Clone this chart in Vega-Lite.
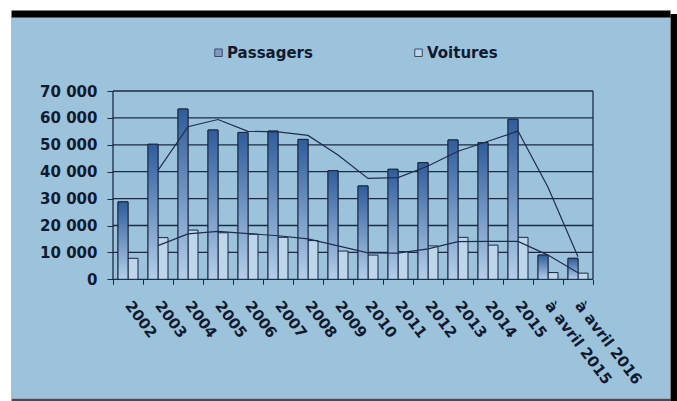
{
  "$schema": "https://vega.github.io/schema/vega-lite/v6.json",
  "width": 659,
  "height": 381,
  "autosize": {"type": "none"},
  "padding": {"left": 11, "top": 17, "right": 7, "bottom": 3},
  "background": "#ffffff",
  "config": {"view": {"fill": "#9dc3dc", "stroke": null}, "font": "DejaVu Sans"},
  "datasets": {
    "grille": [{"v": 0}, {"v": 10000}, {"v": 20000}, {"v": 30000}, {"v": 40000}, {"v": 50000}, {"v": 60000}, {"v": 70000}],
    "cadre": [{"cote": "gauche"}],
    "trafic": [
      {"annee": "2002", "serie": "Passagers", "valeur": 28800, "tendance": null},
      {"annee": "2002", "serie": "Voitures", "valeur": 7800, "tendance": null},
      {"annee": "2003", "serie": "Passagers", "valeur": 50200, "tendance": 40500},
      {"annee": "2003", "serie": "Voitures", "valeur": 15500, "tendance": 12500},
      {"annee": "2004", "serie": "Passagers", "valeur": 63300, "tendance": 56700},
      {"annee": "2004", "serie": "Voitures", "valeur": 18300, "tendance": 16900},
      {"annee": "2005", "serie": "Passagers", "valeur": 55500, "tendance": 59400},
      {"annee": "2005", "serie": "Voitures", "valeur": 17300, "tendance": 17800},
      {"annee": "2006", "serie": "Passagers", "valeur": 54600, "tendance": 55000},
      {"annee": "2006", "serie": "Voitures", "valeur": 16800, "tendance": 17000},
      {"annee": "2007", "serie": "Passagers", "valeur": 55100, "tendance": 54800},
      {"annee": "2007", "serie": "Voitures", "valeur": 15600, "tendance": 16200},
      {"annee": "2008", "serie": "Passagers", "valeur": 52000, "tendance": 53500},
      {"annee": "2008", "serie": "Voitures", "valeur": 14400, "tendance": 15000},
      {"annee": "2009", "serie": "Passagers", "valeur": 40400, "tendance": 46200},
      {"annee": "2009", "serie": "Voitures", "valeur": 10500, "tendance": 12400},
      {"annee": "2010", "serie": "Passagers", "valeur": 34700, "tendance": 37500},
      {"annee": "2010", "serie": "Voitures", "valeur": 9000, "tendance": 9800},
      {"annee": "2011", "serie": "Passagers", "valeur": 40900, "tendance": 37800},
      {"annee": "2011", "serie": "Voitures", "valeur": 10300, "tendance": 9700},
      {"annee": "2012", "serie": "Passagers", "valeur": 43400, "tendance": 42100},
      {"annee": "2012", "serie": "Voitures", "valeur": 12400, "tendance": 11300},
      {"annee": "2013", "serie": "Passagers", "valeur": 51800, "tendance": 47600},
      {"annee": "2013", "serie": "Voitures", "valeur": 15600, "tendance": 14000},
      {"annee": "2014", "serie": "Passagers", "valeur": 50800, "tendance": 51300},
      {"annee": "2014", "serie": "Voitures", "valeur": 12700, "tendance": 14100},
      {"annee": "2015", "serie": "Passagers", "valeur": 59500, "tendance": 55100},
      {"annee": "2015", "serie": "Voitures", "valeur": 15600, "tendance": 14100},
      {"annee": "à avril 2015", "serie": "Passagers", "valeur": 9000, "tendance": 34200},
      {"annee": "à avril 2015", "serie": "Voitures", "valeur": 2500, "tendance": 9000},
      {"annee": "à avril 2016", "serie": "Passagers", "valeur": 7800, "tendance": 8400},
      {"annee": "à avril 2016", "serie": "Voitures", "valeur": 2300, "tendance": 2400}
    ]
  },
  "resolve": {"scale": {"x": "independent", "y": "independent"}, "axis": {"x": "independent", "y": "independent"}},
  "layer": [
    {
      "data": {"name": "trafic"},
      "layer": [
        {
          "data": {"name": "grille"},
          "mark": {"type": "rule", "color": "#1c2a45", "strokeWidth": 1.3},
          "encoding": {
            "y": {"field": "v", "type": "quantitative", "title": null},
            "x": {"datum": "2002", "bandPosition": 0, "title": null},
            "x2": {"datum": "à avril 2016", "bandPosition": 1}
          }
        },
        {
          "data": {"name": "cadre"},
          "mark": {"type": "rule", "color": "#1c2a45", "strokeWidth": 1.3},
          "encoding": {
            "x": {"datum": "2002", "bandPosition": 0, "title": null},
            "y": {"datum": 0, "title": null},
            "y2": {"datum": 70000}
          }
        },
        {
          "data": {"name": "cadre"},
          "mark": {"type": "rule", "color": "#1c2a45", "strokeWidth": 1.3},
          "encoding": {
            "x": {"datum": "à avril 2016", "bandPosition": 1, "title": null},
            "y": {"datum": 0, "title": null},
            "y2": {"datum": 70000}
          }
        },
        {
          "mark": {"type": "bar", "stroke": "#1b2740", "strokeWidth": 1},
          "encoding": {
            "x": {
              "field": "annee", "type": "nominal", "sort": null,
              "scale": {"domain": ["2002","2003","2004","2005","2006","2007","2008","2009","2010","2011","2012","2013","2014","2015","à avril 2015","à avril 2016"], "paddingInner": 0, "paddingOuter": 0, "range": [102, 582]},
              "axis": {"title": null, "orient": "bottom", "offset": -118.7, "domain": false, "grid": false, "ticks": true, "tickBand": "extent", "tickSize": 5, "tickColor": "#1b2740", "tickWidth": 1, "labelAngle": 53, "labelAlign": "left", "labelBaseline": "middle", "labelPadding": 18, "labelFont": "DejaVu Sans", "labelFontWeight": "bold", "labelFontSize": 15, "labelColor": "#111a2e", "labelOverlap": false, "labelBound": false, "labelLimit": 0}
            },
            "xOffset": {"field": "serie", "type": "nominal", "scale": {"domain": ["Passagers", "Voitures"], "paddingInner": 0, "paddingOuter": 0.5}},
            "y": {
              "field": "valeur", "type": "quantitative",
              "scale": {"domain": [-44126, 97510], "nice": false, "zero": false},
              "axis": {"title": null, "orient": "left", "offset": -102, "domain": false, "grid": false, "values": [0, 10000, 20000, 30000, 40000, 50000, 60000, 70000], "tickSize": 6, "tickColor": "#1b2740", "tickWidth": 1, "labelPadding": 10, "labelExpr": "replace(format(datum.value, ','), ',', ' ')", "labelFont": "DejaVu Sans", "labelFontWeight": "bold", "labelFontSize": 15, "labelColor": "#111a2e", "labelBound": false}
            },
            "fill": {
              "field": "serie", "type": "nominal",
              "scale": {"domain": ["Passagers", "Voitures"], "range": ["#7c9cc4", "#bed6ec"]},
              "legend": {"title": null, "orient": "none", "legendX": 200, "legendY": 28, "direction": "horizontal", "symbolType": "square", "symbolSize": 56, "symbolStrokeColor": "#3a4a62", "symbolStrokeWidth": 1, "labelFont": "DejaVu Sans", "labelFontWeight": "bold", "labelFontSize": 15, "labelColor": "#111a2e", "labelOffset": 1, "columnPadding": 98, "padding": 0}
            }
          }
        },
        {
          "transform": [{"filter": "datum.serie === 'Passagers'"}],
          "mark": {"type": "bar", "fill": {"gradient": "linear", "x1": 0, "y1": 0, "x2": 0, "y2": 1, "stops": [{"offset": 0, "color": "#2f5c9c"}, {"offset": 1, "color": "#b3cfea"}]}, "stroke": "#1b2740", "strokeWidth": 1},
          "encoding": {
            "x": {"field": "annee", "type": "nominal", "sort": null, "title": null},
            "xOffset": {"field": "serie", "type": "nominal"},
            "y": {"field": "valeur", "type": "quantitative", "title": null}
          }
        },
        {
          "mark": {"type": "line", "color": "#1f2d4d", "strokeWidth": 1.2},
          "encoding": {
            "x": {"field": "annee", "type": "nominal", "sort": null, "title": null},
            "y": {"field": "tendance", "type": "quantitative", "title": null},
            "detail": {"field": "serie", "type": "nominal"}
          }
        }
      ]
    },
    {
      "data": {"name": "cadre"},
      "mark": {"type": "point", "opacity": 0},
      "encoding": {
        "x": {"datum": 0, "type": "quantitative", "scale": {"domain": [0, 1]}, "axis": {"orient": "top", "offset": 3.5, "domain": true, "domainColor": "#000000", "domainWidth": 7, "domainCap": "butt", "ticks": false, "labels": false, "grid": false, "title": null}},
        "y": {"datum": 0, "type": "quantitative", "scale": {"domain": [0, 1]}, "axis": {"orient": "right", "offset": 3.5, "domain": true, "domainColor": "#000000", "domainWidth": 7, "domainCap": "square", "ticks": false, "labels": false, "grid": false, "title": null}}
      }
    },
    {
      "data": {"name": "cadre"},
      "mark": {"type": "point", "opacity": 0},
      "encoding": {
        "x": {"datum": 0, "type": "quantitative", "scale": {"domain": [0, 1]}, "axis": {"orient": "bottom", "offset": 1.5, "domain": true, "domainColor": "#3c4e62", "domainWidth": 3, "domainCap": "butt", "ticks": false, "labels": false, "grid": false, "title": null}}
      }
    }
  ]
}
